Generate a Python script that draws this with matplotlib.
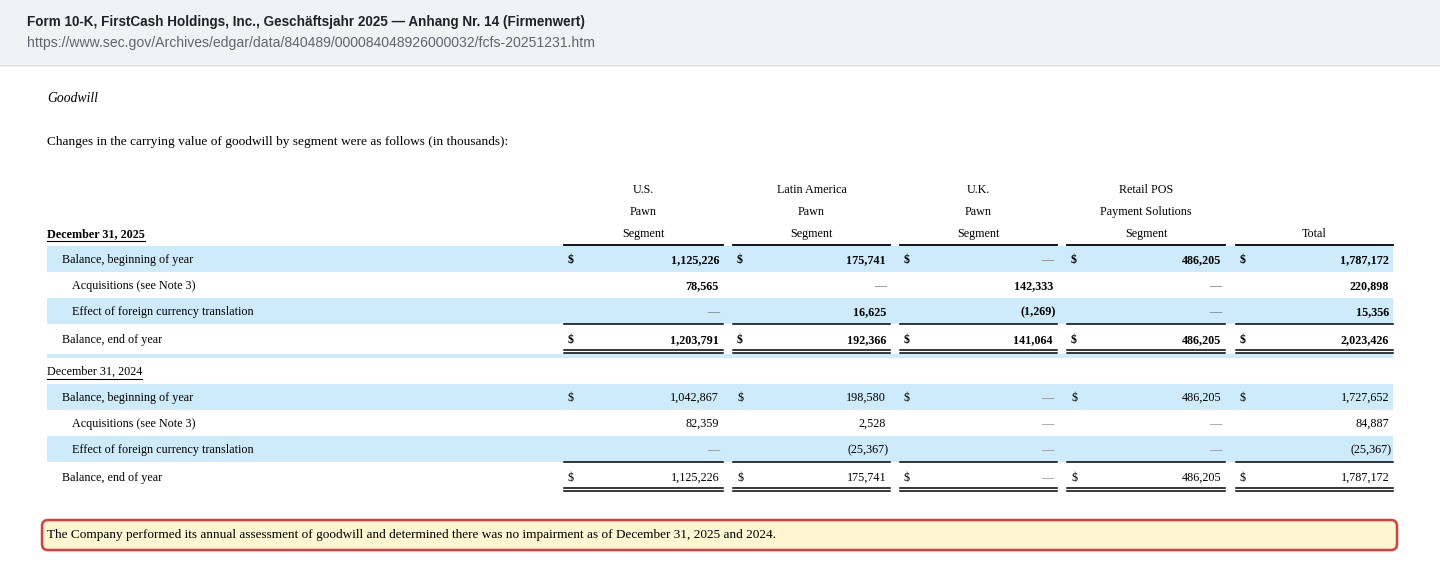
import matplotlib.pyplot as plt
from matplotlib.patches import Rectangle, FancyBboxPatch

# Kopfzeile
page_title = "Form 10-K, FirstCash Holdings, Inc., Geschäftsjahr 2025 — Anhang Nr. 14 (Firmenwert)"
page_url = "https://www.sec.gov/Archives/edgar/data/840489/000084048926000032/fcfs-20251231.htm"
section_title = "Goodwill"
intro_text = "Changes in the carrying value of goodwill by segment were as follows (in thousands):"
note_text = ("The Company performed its annual assessment of goodwill and determined there was "
             "no impairment as of December 31, 2025 and 2024.")

# Spaltenköpfe (drei Zeilen)
head_line1 = ["U.S.", "Latin America", "U.K.", "Retail POS", ""]
head_line2 = ["Pawn", "Pawn", "Pawn", "Payment Solutions", ""]
head_line3 = ["Segment", "Segment", "Segment", "Segment", "Total"]

row_labels = ["Balance, beginning of year", "Acquisitions (see Note 3)",
              "Effect of foreign currency translation", "Balance, end of year"]
row_indent = [0, 10, 10, 0]

period_2025 = "December 31, 2025"
values_2025 = [
    [1125226, 175741, 0, 486205, 1787172],
    [78565, 0, 142333, 0, 220898],
    [0, 16625, -1269, 0, 15356],
    [1203791, 192366, 141064, 486205, 2023426],
]
period_2024 = "December 31, 2024"
values_2024 = [
    [1042867, 198580, 0, 486205, 1727652],
    [82359, 2528, 0, 0, 84887],
    [0, -25367, 0, 0, -25367],
    [1125226, 175741, 0, 486205, 1787172],
]
dollar_rows = [0, 3]

# Layout (Pixel)
col_left = [564, 733, 900, 1067, 1236]
col_right = [723, 890, 1057, 1225, 1393]
band_color = "#cdebfb"
serif = "Liberation Serif"
fs_table = 8.7


def fmt(v):
    if v == 0:
        return "—"
    if v < 0:
        return "({:,})".format(-v)
    return "{:,}".format(v)


fig = plt.figure(figsize=(14.4, 5.8), dpi=100)
ax = fig.add_axes([0, 0, 1, 1])
ax.set_xlim(0, 1440)
ax.set_ylim(580, 0)
ax.axis("off")
renderer = fig.canvas.get_renderer()

# grauer Kopfbereich
ax.add_patch(Rectangle((0, 0), 1440, 64, facecolor="#f1f2f4", edgecolor="none"))
ax.plot([0, 1440], [64.5, 64.5], color="#d5dbe2", lw=1)
ax.text(27, 22, page_title, fontsize=9.75, fontweight="bold", color="#1f2328",
        family="Liberation Sans", va="center")
ax.text(27, 43, page_url, fontsize=10.05, color="#5f6670",
        family="Liberation Sans", va="center")

ax.text(47, 98, section_title, fontsize=9.8, style="italic", family=serif, va="center")
ax.text(47, 142, intro_text, fontsize=9.6, family=serif, va="center")

# Spaltenköpfe
for i in range(5):
    cx = (col_left[i] + col_right[i]) / 2
    for txt, y in zip([head_line1[i], head_line2[i], head_line3[i]], [189, 211, 233]):
        if txt:
            ax.text(cx, y + 1, txt, fontsize=fs_table, family=serif, ha="center", va="center")
    ax.plot([col_left[i], col_right[i]], [245, 245], color="black", lw=1.3)


def draw_block(label, values, y0, bold, band_extra):
    # y0 = Mitte der Periodenzeile
    weight = "bold" if bold else "normal"
    t = ax.text(47, y0 + 1, label, fontsize=fs_table, family=serif, fontweight=weight, va="center")
    lab_w = t.get_window_extent(renderer).width
    ax.plot([47, 47 + lab_w], [y0 + 7.5, y0 + 7.5], color="black", lw=0.8)
    row_y = [y0 + 26, y0 + 52, y0 + 78, y0 + 106]
    for r, vals in enumerate(values):
        y = row_y[r]
        if r in (0, 2):
            ax.add_patch(Rectangle((47, y - 13), 1346, 26, facecolor=band_color,
                                   edgecolor="none", zorder=0))
        ax.text(62 + row_indent[r], y + 1, row_labels[r], fontsize=fs_table, family=serif,
                va="center")
        for i, v in enumerate(vals):
            s = fmt(v)
            col = "#808080" if v == 0 else "black"
            x_r = col_right[i] - 4 + (3 if v < 0 else 0)
            ax.text(x_r, y + 1, s, fontsize=fs_table, family=serif, fontweight=weight,
                    ha="right", va="center", color=col)
            if r in dollar_rows:
                ax.text(col_left[i] + 4, y + 1, "$", fontsize=fs_table, family=serif,
                        fontweight=weight, va="center")
    for i in range(5):
        ax.plot([col_left[i], col_right[i]], [row_y[3] - 15, row_y[3] - 15], color="black", lw=1.1)
        ax.plot([col_left[i], col_right[i]], [row_y[3] + 11, row_y[3] + 11], color="black", lw=1.1)
        ax.plot([col_left[i], col_right[i]], [row_y[3] + 14, row_y[3] + 14], color="black", lw=1.1)
    if band_extra:
        ax.add_patch(Rectangle((47, row_y[3] + 15), 1346, 4, facecolor=band_color,
                               edgecolor="none", zorder=0))


draw_block(period_2025, values_2025, 233, True, True)
draw_block(period_2024, values_2024, 371, False, False)

# Hinweisbox
ax.add_patch(FancyBboxPatch((42, 520), 1355, 30, boxstyle="round,pad=0,rounding_size=6",
                            facecolor="#fdf6d0", edgecolor="#e03a3a", lw=1.8))
ax.text(47, 535, note_text, fontsize=9.55, family=serif, va="center")

fig.savefig("out.png", dpi=100)
